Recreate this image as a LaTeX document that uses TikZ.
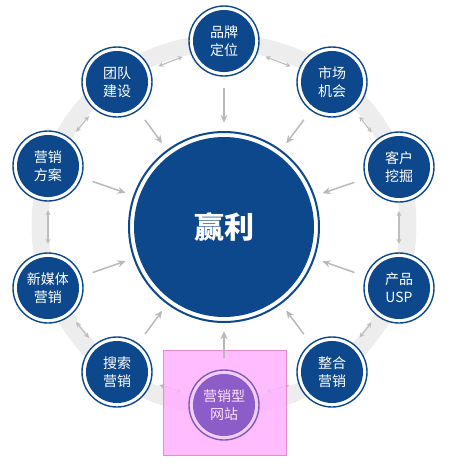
\documentclass[tikz,border=0pt]{standalone}
\usepackage{fontspec}
\newfontfamily\cjk{Noto Sans CJK SC}
\usetikzlibrary{arrows.meta}
\definecolor{dblue}{RGB}{14,72,140}
\definecolor{bandc}{RGB}{237,237,237}
\definecolor{arrc}{RGB}{185,185,185}
\definecolor{ringarrc}{RGB}{190,190,190}
\definecolor{pinkbox}{RGB}{255,178,255}
\definecolor{pinkedge}{RGB}{228,140,205}
\definecolor{purp}{RGB}{140,92,200}
\definecolor{purpring}{RGB}{245,205,250}
\definecolor{purpedge}{RGB}{130,90,185}
\definecolor{purptext}{RGB}{252,225,252}
\begin{document}
\begin{tikzpicture}[x=1pt,y=-1pt,
  smallc/.style={circle,minimum size=70pt,inner sep=0pt,fill=white,draw=dblue,line width=1.4pt,
    path picture={\fill[dblue] (path picture bounding box.center) circle[radius=31pt];},
    text=white,font=\cjk\fontsize{14pt}{18pt}\selectfont,align=center},
  purpc/.style={circle,minimum size=70pt,inner sep=0pt,fill=purpring,draw=purpedge,line width=1.4pt,
    path picture={\fill[purp] (path picture bounding box.center) circle[radius=31pt];},
    text=purptext,font=\cjk\fontsize{14pt}{18pt}\selectfont,align=center},
  bigc/.style={circle,minimum size=190pt,inner sep=0pt,fill=white,draw=dblue,line width=2pt,
    path picture={\fill[dblue] (path picture bounding box.center) circle[radius=90pt];},
    text=white,font=\cjk\bfseries\fontsize{30pt}{34pt}\selectfont},
  toc/.style={draw=arrc,line width=1.5pt,-{Stealth[length=8pt,width=7pt]},shorten <=12pt,shorten >=9pt},
  ringarr/.style={draw=ringarrc,line width=1.2pt,{Stealth[length=5pt,width=5pt]}-{Stealth[length=5pt,width=5pt]},shorten <=9pt,shorten >=9pt}
]
\useasboundingbox (0,0) rectangle (451,467);
% band
\draw[bandc,line width=17pt] (224,225) ellipse [x radius=184,y radius=182];
\path
  (224,41)  coordinate (p1)
  (332,82)  coordinate (p2)
  (399,167) coordinate (p3)
  (399,288) coordinate (p4)
  (332,372) coordinate (p5)
  (224,405) coordinate (p6)
  (117,372) coordinate (p7)
  (48,288)  coordinate (p8)
  (48,166)  coordinate (p9)
  (117,82)  coordinate (p10)
  (224,227) coordinate (pc);
% invisible shape nodes for connectors
\foreach \i in {1,...,10} {\node[circle,minimum size=70pt,inner sep=0pt] (n\i) at (p\i) {};}
\node[circle,minimum size=190pt,inner sep=0pt] (c) at (pc) {};
% ring arrows
\foreach \a/\b in {1/2,2/3,3/4,4/5,5/6,6/7,7/8,8/9,9/10,10/1} {\draw[ringarr] (n\a) -- (n\b);}
% pink box
\fill[pinkbox,opacity=0.85] (163,350) rectangle (286,455);
\draw[pinkedge,line width=1pt] (163,350) rectangle (286,455);
% arrows to center
\foreach \i in {1,...,10} {\draw[toc] (n\i) -- (c);}
% circles
\node[bigc] (center) at (pc) {赢利};
\node[smallc] (a1) at (p1) {品牌\\定位};
\node[smallc] (a2) at (p2) {市场\\机会};
\node[smallc] (a3) at (p3) {客户\\挖掘};
\node[smallc] (a4) at (p4) {产品\\USP};
\node[smallc] (a5) at (p5) {整合\\营销};
\node[purpc]  (a6) at (p6) {营销型\\网站};
\node[smallc] (a7) at (p7) {搜索\\营销};
\node[smallc] (a8) at (p8) {新媒体\\营销};
\node[smallc] (a9) at (p9) {营销\\方案};
\node[smallc] (a10) at (p10) {团队\\建设};
\end{tikzpicture}
\end{document}
